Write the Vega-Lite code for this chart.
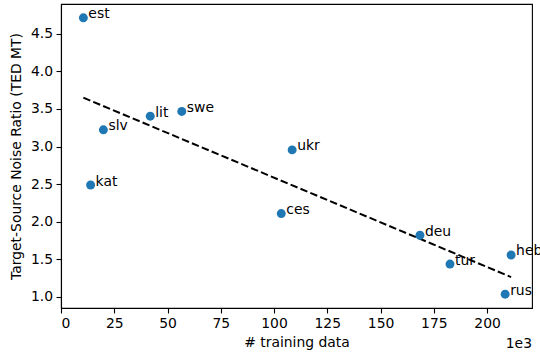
{
  "$schema": "https://vega.github.io/schema/vega-lite/v6.json",
  "width": 471,
  "height": 304,
  "autosize": {"type": "none"},
  "padding": {"left": 61, "top": 4, "right": 8, "bottom": 48},
  "background": "white",
  "config": {
    "view": {"stroke": "black", "strokeWidth": 1.1},
    "font": "DejaVu Sans",
    "axis": {
      "domainColor": "black",
      "tickColor": "black",
      "labelColor": "black",
      "titleColor": "black",
      "labelFont": "DejaVu Sans",
      "titleFont": "DejaVu Sans",
      "labelFontSize": 13.9,
      "titleFontSize": 13.9,
      "titleFontWeight": "normal",
      "grid": false,
      "tickSize": 5,
      "labelPadding": 3.5,
      "domainWidth": 1.1,
      "tickWidth": 1.1
    }
  },
  "datasets": {
    "points": [
      {"lang": "est", "train": 10.5, "ratio": 4.714},
      {"lang": "kat", "train": 13.9, "ratio": 2.487},
      {"lang": "slv", "train": 19.9, "ratio": 3.222},
      {"lang": "lit", "train": 41.9, "ratio": 3.404},
      {"lang": "swe", "train": 56.7, "ratio": 3.467},
      {"lang": "ukr", "train": 108.5, "ratio": 2.955},
      {"lang": "ces", "train": 103.4, "ratio": 2.107},
      {"lang": "deu", "train": 168.5, "ratio": 1.818},
      {"lang": "tur", "train": 182.6, "ratio": 1.434},
      {"lang": "heb", "train": 211.3, "ratio": 1.555},
      {"lang": "rus", "train": 208.5, "ratio": 1.033}
    ],
    "fit": [
      {"train": 10.5, "ratio": 3.65},
      {"train": 211.3, "ratio": 1.261}
    ],
    "offset": [
      {"train": 221.1, "ratio": 0.849, "label": "1e3"}
    ]
  },
  "layer": [
    {
      "data": {"name": "fit"},
      "mark": {"type": "line", "color": "black", "strokeWidth": 2, "strokeDash": [7.5, 3.2]},
      "encoding": {
        "x": {
          "field": "train", "type": "quantitative",
          "scale": {"domain": [0, 221.1], "nice": false, "zero": false},
          "axis": {"title": "# training data", "values": [0, 25, 50, 75, 100, 125, 150, 175, 200], "titlePadding": 5}
        },
        "y": {
          "field": "ratio", "type": "quantitative",
          "scale": {"domain": [0.849, 4.898], "nice": false, "zero": false},
          "axis": {"title": "Target-Source Noise Ratio (TED MT)", "values": [1, 1.5, 2, 2.5, 3, 3.5, 4, 4.5], "format": ".1f", "titlePadding": 7}
        }
      }
    },
    {
      "data": {"name": "points"},
      "mark": {"type": "circle", "color": "#1f77b4", "opacity": 1, "size": 80},
      "encoding": {
        "x": {"field": "train", "type": "quantitative"},
        "y": {"field": "ratio", "type": "quantitative"}
      }
    },
    {
      "data": {"name": "points"},
      "mark": {"type": "text", "align": "left", "baseline": "alphabetic", "dx": 5, "dy": 0.5, "fontSize": 13.9, "color": "black", "font": "DejaVu Sans"},
      "encoding": {
        "x": {"field": "train", "type": "quantitative"},
        "y": {"field": "ratio", "type": "quantitative"},
        "text": {"field": "lang"}
      }
    },
    {
      "data": {"name": "offset"},
      "mark": {"type": "text", "align": "right", "baseline": "alphabetic", "dy": 40, "fontSize": 13.9, "color": "black", "font": "DejaVu Sans"},
      "encoding": {
        "x": {"field": "train", "type": "quantitative"},
        "y": {"field": "ratio", "type": "quantitative"},
        "text": {"field": "label"}
      }
    }
  ]
}
